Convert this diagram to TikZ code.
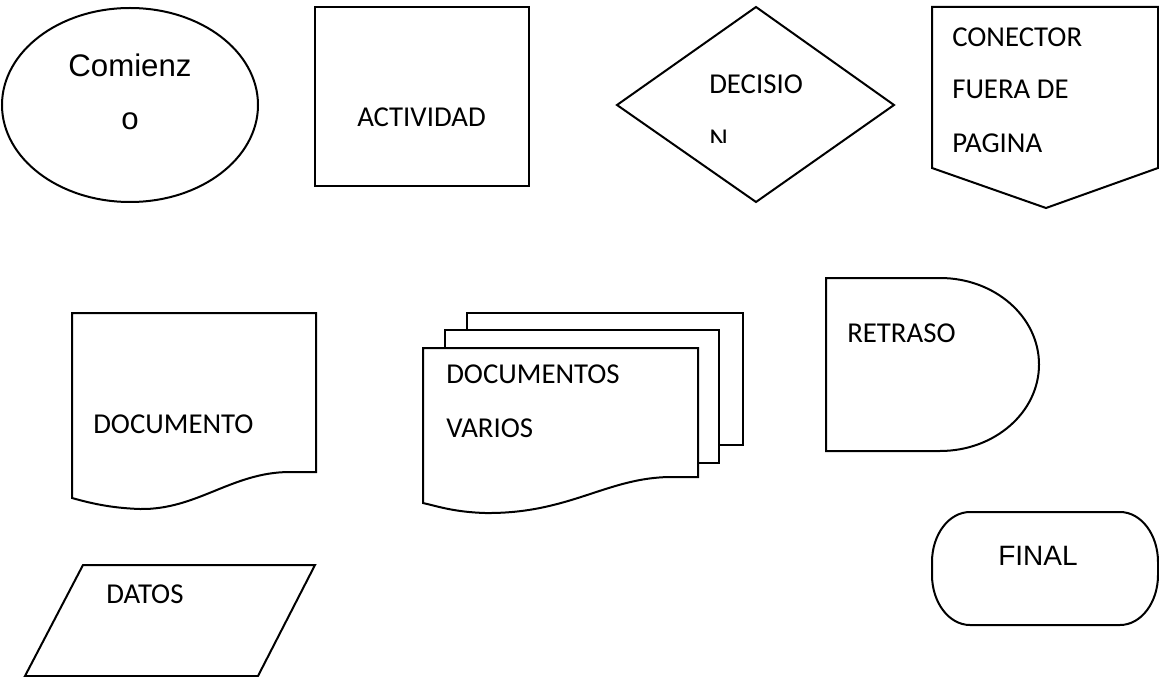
\documentclass[tikz,border=0pt]{standalone}
\usepackage{fontspec}
\setmainfont{Carlito}
\newfontfamily\arialf{Liberation Sans}
\begin{document}
\begin{tikzpicture}[x=0.75pt,y=-0.75pt,
  shapeline/.style={draw=black,line width=1.5pt,line join=miter,fill=white},
  cal/.style={inner sep=0pt,anchor=base west,font=\fontsize{21.6pt}{25pt}\selectfont},
  ari/.style={inner sep=0pt,anchor=base,font=\arialf\fontsize{23.4pt}{27pt}\selectfont}]
\useasboundingbox (0,0) rectangle (1159,677);
% Comienzo ellipse
\draw[shapeline] (130,105) ellipse [x radius=96pt, y radius=72.75pt];
\node[ari] (t1a) at (130,77) {Comienz};
\node[ari] (t1b) at (130,130) {o};
% Actividad
\draw[shapeline] (315,7) rectangle (529,186);
\node[cal] (t2) at (357,127) {ACTIVIDAD};
% Decision
\draw[shapeline] (617,105) -- (756,7) -- (894,105) -- (756,202) -- cycle;
\node[cal] (t3a) at (709,94) {DECISIO};
\begin{scope}
\clip (700,110) rectangle (820,143);
\node[cal] (t3b) at (709,149) {N};
\end{scope}
% Off-page connector
\draw[shapeline] (932,7) -- (1158,7) -- (1158,168) -- (1046,208) -- (932,168) -- cycle;
\node[cal] (t4a) at (952,47) {CONECTOR};
\node[cal] (t4b) at (952,99) {FUERA DE};
\node[cal] (t4c) at (952,153) {PAGINA};
% Documento
\draw[shapeline] (72,313) -- (316,313) -- (316,472) -- (290,472)
  .. controls (232,472) and (197,510) .. (140,509)
  .. controls (110,508) and (90,503) .. (72,498) -- cycle;
\node[cal] (t5) at (93,433) {DOCUMENTO};
% Documentos varios
\draw[shapeline] (467,313) rectangle (743,445);
\draw[shapeline] (445,330) rectangle (719,463);
\draw[shapeline] (423,348) -- (698,348) -- (698,477) -- (672,477)
  .. controls (607,477) and (570,514) .. (485,513)
  .. controls (455,512) and (440,507) .. (423,503) -- cycle;
\node[cal] (t6a) at (446,383) {DOCUMENTOS};
\node[cal] (t6b) at (446,437) {VARIOS};
% Retraso
\draw[shapeline] (940,278) -- (826,278) -- (826,451) -- (940,451)
  arc[start angle=-90, end angle=90, x radius=74.25pt, y radius=64.875pt] -- cycle;
\node[cal] (t7) at (847,342) {RETRASO};
% Final
\draw[shapeline] (970,512) -- (1120,512)
  arc[start angle=90, end angle=0, x radius=28.5pt, y radius=37.5pt] -- (1158,575)
  arc[start angle=0, end angle=-90, x radius=28.5pt, y radius=37.5pt] -- (970,625)
  arc[start angle=270, end angle=180, x radius=28.5pt, y radius=37.5pt] -- (932,562)
  arc[start angle=180, end angle=90, x radius=28.5pt, y radius=37.5pt] -- cycle;
\node[inner sep=0pt,anchor=base west,font=\arialf\fontsize{21pt}{25pt}\selectfont] (t8) at (998,565) {FINAL};
% Datos
\draw[shapeline] (83,565) -- (315,565) -- (258,676) -- (25,676) -- cycle;
\node[cal] (t9) at (106,603) {DATOS};
\end{tikzpicture}
\end{document}
